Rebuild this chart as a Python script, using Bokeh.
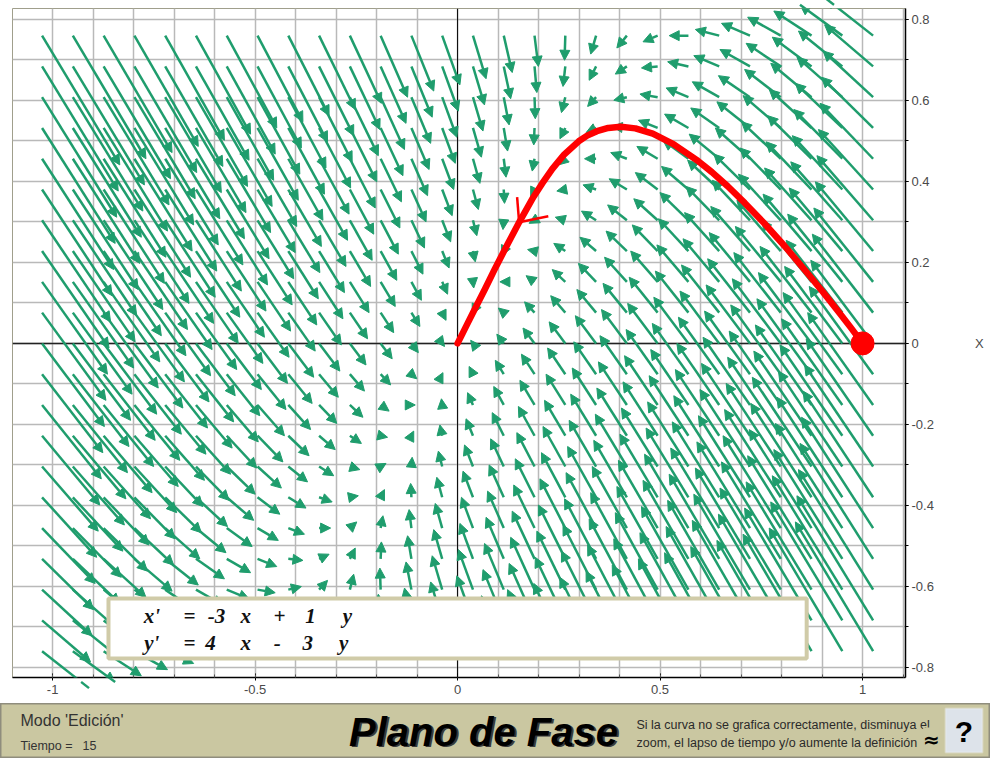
import numpy as np
from bokeh.plotting import figure
from bokeh.models import (ColumnDataSource, Arrow, NormalHead, Span, BoxAnnotation, Label,
                          FixedTicker, Range1d)
from bokeh.layouts import column
from bokeh.embed import file_html
from bokeh.resources import INLINE

# ---------------- data ----------------
# linear system  x' = a x + b y ,  y' = c x + d y
coef_a, coef_b = -3, 1
coef_c, coef_d = 4, -3

# sample points of the direction field (arrow tails)
field_x = [-1.026, -0.950, -0.874, -0.798, -0.722, -0.646, -0.570, -0.494, -0.418, -0.342,
           -0.266, -0.190, -0.114, -0.038, 0.038, 0.114, 0.190, 0.266, 0.342, 0.418,
           0.494, 0.570, 0.646, 0.722, 0.798, 0.874, 0.950, 1.026]
field_y = [-0.760, -0.684, -0.608, -0.532, -0.456, -0.380, -0.304, -0.228, -0.152, -0.076,
           0.0, 0.076, 0.152, 0.228, 0.304, 0.380, 0.456, 0.532, 0.608, 0.684, 0.760]
arrow_scale = 0.05

# red trajectory, starting at (1, 0)
traj_x = [1.000, 0.971, 0.943, 0.903, 0.865, 0.808, 0.756, 0.709, 0.667, 0.628, 0.593,
          0.533, 0.482, 0.439, 0.403, 0.372, 0.344, 0.320, 0.299, 0.263, 0.234, 0.209,
          0.187, 0.152, 0.124, 0.091, 0.068, 0.041, 0.025, 0.009, 0.000]
traj_y = [0.000, 0.039, 0.075, 0.126, 0.172, 0.240, 0.298, 0.347, 0.388, 0.423, 0.451,
          0.492, 0.518, 0.531, 0.535, 0.532, 0.524, 0.513, 0.499, 0.466, 0.431, 0.395,
          0.361, 0.299, 0.246, 0.182, 0.135, 0.082, 0.050, 0.018, 0.000]
traj_arrow_idx = 23

# tick labels
x_ticks = [-1, -0.5, 0, 0.5, 1]
x_tick_labels = ["-1", "-0.5", "0", "0.5", "1"]
y_ticks = [-0.8, -0.6, -0.4, -0.2, 0, 0.2, 0.4, 0.6, 0.8]
y_tick_labels = ["-0.8", "-0.6", "-0.4", "-0.2", "0", "0.2", "0.4", "0.6", "0.8"]
grid_x = [round(-1.0 + 0.1 * i, 1) for i in range(22)]
grid_y = [round(-0.8 + 0.1 * i, 1) for i in range(17)]

GREEN = "#1f9d6d"
RED = "#ff0000"
LABEL_FONT = "Liberation Sans"

# ---------------- main phase plane ----------------
p = figure(width=990, height=703,
           x_range=Range1d(-1.099, 1.106), y_range=Range1d(-0.825, 0.827),
           x_axis_location="below", y_axis_location="right",
           min_border_left=12, min_border_right=85, min_border_top=8, min_border_bottom=26,
           toolbar_location=None, output_backend="svg",
           background_fill_color="white", border_fill_color="white")
p.frame_align = False
p.outline_line_color = "#a09f8c"
p.outline_line_width = 1

# grid
p.xgrid.ticker = FixedTicker(ticks=grid_x)
p.ygrid.ticker = FixedTicker(ticks=grid_y)
for g in (p.xgrid[0], p.ygrid[0]):
    g.grid_line_color = "#b9b9b9"
    g.grid_line_width = 1.5

# bottom axis
xa = p.xaxis[0]
xa.ticker = FixedTicker(ticks=x_ticks, minor_ticks=grid_x)
xa.major_label_overrides = {t: l for t, l in zip(x_ticks, x_tick_labels)}
xa.axis_line_color = "black"
xa.axis_line_width = 1.5
xa.major_tick_in = 4
xa.major_tick_out = 3
xa.minor_tick_in = 3
xa.minor_tick_out = 0
xa.major_tick_line_color = "black"
xa.minor_tick_line_color = "#555555"
xa.major_label_standoff = 4
xa.major_label_text_font = LABEL_FONT
xa.major_label_text_font_size = "13px"
xa.major_label_text_color = "#4a4a4a"

# right axis (its name "X" sits level with the x axis, far right)
ya = p.yaxis[0]
ya.ticker = FixedTicker(ticks=y_ticks, minor_ticks=grid_y)
ya.major_label_overrides = {t: l for t, l in zip(y_ticks, y_tick_labels)}
ya.axis_line_color = "black"
ya.axis_line_width = 1.5
ya.major_tick_in = 0
ya.major_tick_out = 3
ya.minor_tick_in = 0
ya.minor_tick_out = 3
ya.major_tick_line_color = "black"
ya.minor_tick_line_color = "black"
ya.major_label_standoff = 3
ya.major_label_text_font = LABEL_FONT
ya.major_label_text_font_size = "13px"
ya.major_label_text_color = "#4a4a4a"
ya.axis_label = "X"
ya.axis_label_orientation = "horizontal"
ya.axis_label_standoff = 38
ya.axis_label_text_font = LABEL_FONT
ya.axis_label_text_font_style = "normal"
ya.axis_label_text_font_size = "13px"
ya.axis_label_text_color = "#4a4a4a"

# coordinate axes through the origin
p.add_layout(Span(location=0, dimension="width", line_color="#222222", line_width=1.5))
p.add_layout(Span(location=0, dimension="height", line_color="black", line_width=1))

# direction field
fx, fy = np.meshgrid(np.array(field_x), np.array(field_y))
u = coef_a * fx + coef_b * fy
v = coef_c * fx + coef_d * fy
field_src = ColumnDataSource(dict(
    x0=fx.ravel(), y0=fy.ravel(),
    x1=(fx + arrow_scale * u).ravel(), y1=(fy + arrow_scale * v).ravel()))
p.add_layout(Arrow(x_start="x0", y_start="y0", x_end="x1", y_end="y1", source=field_src,
                   line_color=GREEN, line_width=2.5,
                   end=NormalHead(size=10, fill_color=GREEN, line_color=GREEN, line_width=1)))

# equation box
p.add_layout(BoxAnnotation(left=-0.862, right=0.862, top=-0.630, bottom=-0.778,
                           fill_color="white", fill_alpha=1.0,
                           line_color="#d0cba8", line_width=4, line_alpha=1.0))

def sgn(c):
    return "+" if c >= 0 else "-"

eq_rows = [
    (["x'", "=", str(coef_a), "x", sgn(coef_b), str(abs(coef_b)), "y"],
     [-0.755, -0.662, -0.595, -0.523, -0.440, -0.363, -0.272], -0.674),
    (["y'", "=", str(coef_c), "x", sgn(coef_d), str(abs(coef_d)), "y"],
     [-0.755, -0.662, -0.610, -0.523, -0.445, -0.370, -0.281], -0.741),
]
for toks, xs, yv in eq_rows:
    for t, xv in zip(toks, xs):
        p.add_layout(Label(x=xv, y=yv, text=t, text_font="Liberation Serif",
                           text_font_style="bold italic", text_font_size="21px",
                           text_color="#111111", text_align="center", text_baseline="middle"))

# trajectory
p.line(traj_x, traj_y, line_color=RED, line_width=6.5, line_cap="round", line_join="round",
       level="overlay")
tip_x, tip_y = traj_x[traj_arrow_idx], traj_y[traj_arrow_idx]
barb_dx = [-0.005, 0.072]
barb_dy = [0.062, 0.015]
p.segment(x0=[tip_x, tip_x], y0=[tip_y, tip_y],
          x1=[tip_x + d for d in barb_dx], y1=[tip_y + d for d in barb_dy],
          line_color=RED, line_width=2.5, level="overlay")
p.scatter([traj_x[0]], [traj_y[0]], size=23, fill_color=RED, line_color=RED, level="overlay")

# ---------------- status bar ----------------
PANEL = "#cac7a1"
bar = figure(width=990, height=55, x_range=Range1d(0, 990), y_range=Range1d(0, 55),
             x_axis_location=None, y_axis_location=None,
             min_border=0, min_border_left=0, min_border_right=0,
             min_border_top=0, min_border_bottom=0,
             toolbar_location=None, output_backend="svg",
             background_fill_color=PANEL, border_fill_color=PANEL)
bar.frame_align = False
bar.grid.visible = False
bar.outline_line_color = "#8f8d7d"
bar.outline_line_width = 2

bar.add_layout(Label(x=20, y=38, text="Modo 'Edición'", text_font=LABEL_FONT,
                     text_font_size="16px", text_color="#333333", text_baseline="middle"))
bar.add_layout(Label(x=20, y=13, text="Tiempo =", text_font=LABEL_FONT,
                     text_font_size="12.5px", text_color="#333333", text_baseline="middle"))
bar.add_layout(Label(x=82, y=13, text="15", text_font=LABEL_FONT,
                     text_font_size="12.5px", text_color="#333333", text_baseline="middle"))
bar.add_layout(Label(x=485, y=25.5, text="Plano de Fase", text_font=LABEL_FONT,
                     text_font_style="bold italic", text_font_size="40px", text_color="#3a3a3a",
                     text_align="center", text_baseline="middle"))
bar.add_layout(Label(x=483, y=26.5, text="Plano de Fase", text_font=LABEL_FONT,
                     text_font_style="bold italic", text_font_size="40px", text_color="black",
                     text_align="center", text_baseline="middle"))
bar.add_layout(Label(x=636, y=34, text="Si la curva no se grafica correctamente, disminuya el",
                     text_font=LABEL_FONT, text_font_size="12.5px", text_color="#2a2a2a",
                     text_baseline="middle"))
bar.add_layout(Label(x=636, y=16, text="zoom, el lapso de tiempo y/o aumente la definición",
                     text_font=LABEL_FONT, text_font_size="12.5px", text_color="#2a2a2a",
                     text_baseline="middle"))
bar.add_layout(Label(x=931, y=19, text="≈", text_font="DejaVu Sans", text_font_style="bold",
                     text_font_size="20px", text_color="black", text_align="center",
                     text_baseline="middle", background_fill_color=PANEL,
                     background_fill_alpha=1.0))
bar.add_layout(BoxAnnotation(left=945, right=982, bottom=6, top=50, fill_color="#dde3ea",
                             fill_alpha=1.0, line_color="#f2f4f7", line_width=2))
bar.add_layout(Label(x=963.5, y=27, text="?", text_font=LABEL_FONT, text_font_style="bold",
                     text_font_size="30px", text_color="black", text_align="center",
                     text_baseline="middle"))

layout = column(p, bar, spacing=0)
open("out.html", "w").write(file_html(layout, INLINE))
